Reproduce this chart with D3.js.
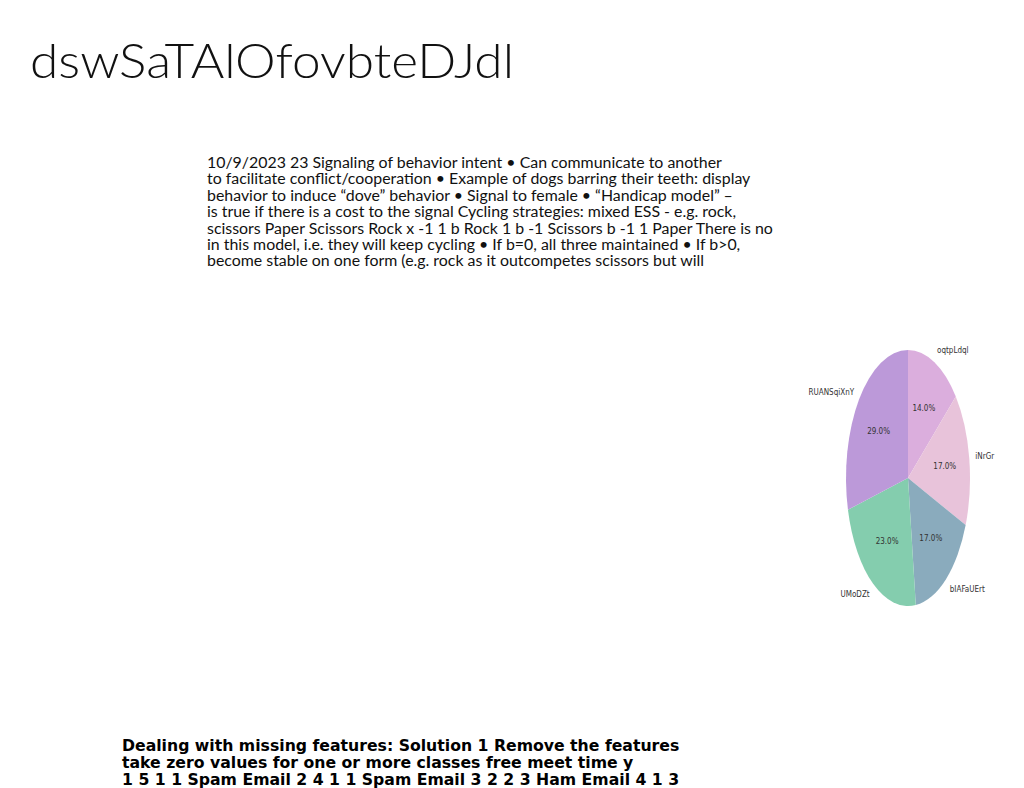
<!DOCTYPE html>
<html><head><meta charset="utf-8">
<script src="https://cdn.jsdelivr.net/npm/d3@7"></script>
<style>
body{margin:0;background:#fff;}
svg{font-family:"Lato","Noto Sans",sans-serif;}
</style></head>
<body><svg id="c" width="1024" height="788"></svg>
<script>
const labels = ["oqtpLdql", "iNrGr", "bIAFaUErt", "UMoDZt", "RUANSqiXnY"];
const values = [14.0, 17.0, 17.0, 23.0, 29.0];
const colors = ["#dbaedd", "#e8c3da", "#8aabbd", "#84cdae", "#bc99d9"];

const para = [
  "10/9/2023 23 Signaling of behavior intent \u2022 Can communicate to another",
  "to facilitate conflict/cooperation \u2022 Example of dogs barring their teeth: display",
  "behavior to induce \u201cdove\u201d behavior \u2022 Signal to female \u2022 \u201cHandicap model\u201d \u2013",
  "is true if there is a cost to the signal Cycling strategies: mixed ESS - e.g. rock,",
  "scissors Paper Scissors Rock x -1 1 b Rock 1 b -1 Scissors b -1 1 Paper There is no",
  "in this model, i.e. they will keep cycling \u2022 If b=0, all three maintained \u2022 If b>0,",
  "become stable on one form (e.g. rock as it outcompetes scissors but will"
];
const bottom = [
  "Dealing with missing features: Solution 1 Remove the features",
  "take zero values for one or more classes free meet time y",
  "1 5 1 1 Spam Email 2 4 1 1 Spam Email 3 2 2 3 Ham Email 4 1 3"
];

const svg = d3.select("#c");

svg.append("text").attr("x", 30).attr("y", 78)
  .attr("textLength", 484).attr("lengthAdjust", "spacingAndGlyphs")
  .style("font-size", "47px").style("font-weight", 300).style("fill", "#111")
  .text("dswSaTAlOfovbteDJdl");

svg.append("g").selectAll("text").data(para).join("text")
  .attr("x", 207).attr("y", (d, i) => 168 + i * 16.4)
  .style("font-size", "15.9px").style("fill", "#111").text(d => d);

svg.append("g").selectAll("text").data(bottom).join("text")
  .attr("x", 122).attr("y", (d, i) => 751 + i * 16.8)
  .style("font-family", "'DejaVu Sans',sans-serif")
  .style("font-size", "15.7px").style("font-weight", "bold").style("fill", "#000").text(d => d);

// elliptical pie
const cx = 908, cy = 478, rx = 62, ry = 128, R = 100;
const pie = d3.pie().sort(null).value(d => d);
const arcs = pie(values);
const arc = d3.arc().innerRadius(0).outerRadius(R);

const g = svg.append("g").attr("transform", `translate(${cx},${cy}) scale(${rx / R},${ry / R})`);
g.selectAll("path").data(arcs).join("path")
  .attr("d", arc).attr("fill", (d, i) => colors[i]);

const pos = (d, k) => {
  const a = (d.startAngle + d.endAngle) / 2;
  return [cx + Math.sin(a) * rx * k, cy - Math.cos(a) * ry * k];
};
const lg = svg.append("g").style("font-family", "'DejaVu Sans Condensed','DejaVu Sans',sans-serif")
  .style("font-size", "8px").style("fill", "#333");
lg.selectAll("text.p").data(arcs).join("text").attr("class", "p")
  .attr("x", d => pos(d, 0.6)[0]).attr("y", d => pos(d, 0.6)[1])
  .attr("text-anchor", "middle").attr("dy", "0.35em")
  .text(d => d.data.toFixed(1) + "%");
lg.selectAll("text.l").data(arcs).join("text").attr("class", "l")
  .attr("x", d => pos(d, 1.1)[0]).attr("y", d => pos(d, 1.1)[1])
  .attr("text-anchor", d => Math.sin((d.startAngle + d.endAngle) / 2) >= 0 ? "start" : "end")
  .attr("dy", "0.35em")
  .text((d, i) => labels[i]);
</script></body></html>
